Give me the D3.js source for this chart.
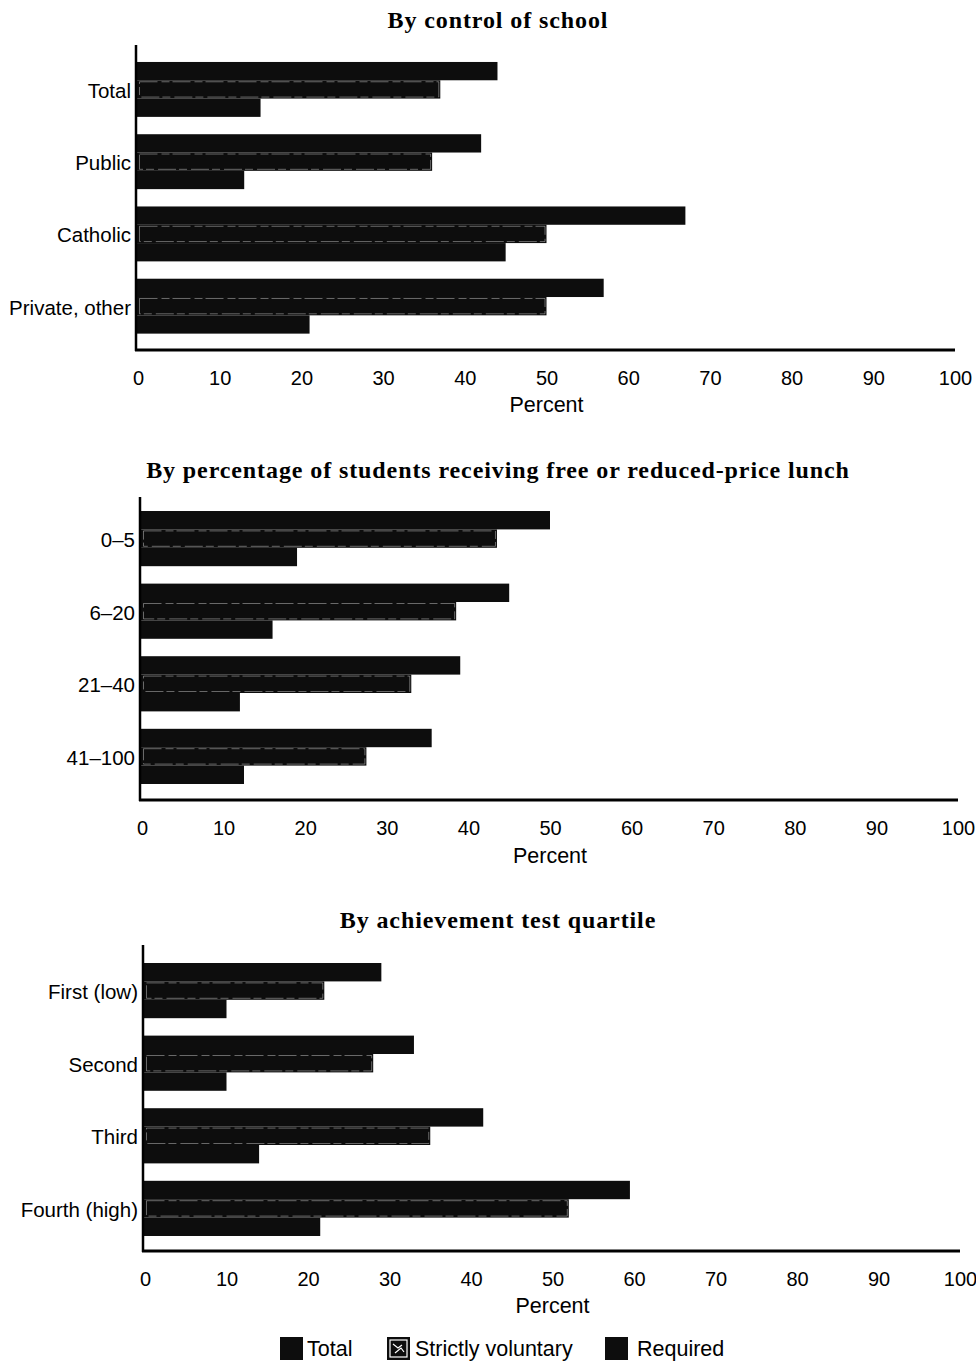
<!DOCTYPE html>
<html>
<head>
<meta charset="utf-8">
<script src="https://cdn.jsdelivr.net/npm/d3@7"></script>
<style>
  html, body { margin: 0; padding: 0; background: #fff; }
  svg { display: block; }
</style>
</head>
<body>
<svg id="chart" width="976" height="1363"></svg>
<script>
// ---- Data ----
const seriesNames = ["Total", "Strictly voluntary", "Required"];
const tickValues = [0, 10, 20, 30, 40, 50, 60, 70, 80, 90, 100];

const controlTitle = "By control of school";
const controlCategories = ["Total", "Public", "Catholic", "Private, other"];
const controlTotal = [44, 42, 67, 57];
const controlVoluntary = [37, 36, 50, 50];
const controlRequired = [15, 13, 45, 21];

const lunchTitle = "By percentage of students receiving free or reduced-price lunch";
const lunchCategories = ["0–5", "6–20", "21–40", "41–100"];
const lunchTotal = [50, 45, 39, 35.5];
const lunchVoluntary = [43.5, 38.5, 33, 27.5];
const lunchRequired = [19, 16, 12, 12.5];

const quartileTitle = "By achievement test quartile";
const quartileCategories = ["First (low)", "Second", "Third", "Fourth (high)"];
const quartileTotal = [29, 33, 41.5, 59.5];
const quartileVoluntary = [22, 28, 35, 52];
const quartileRequired = [10, 10, 14, 21.5];

// ---- Layout (positions only) ----
const panels = [
  { title: controlTitle, cats: controlCategories, vals: [controlTotal, controlVoluntary, controlRequired],
    x0: 138, x1: 955, axisY: 350, yAxisX: 136, yTop: 45, bandStart: 53.3, step: 72.25,
    titleY: 20, tickY: 378, labelY: 405 },
  { title: lunchTitle, cats: lunchCategories, vals: [lunchTotal, lunchVoluntary, lunchRequired],
    x0: 142, x1: 958, axisY: 800, yAxisX: 140, yTop: 497, bandStart: 502.3, step: 72.6,
    titleY: 470, tickY: 828, labelY: 856 },
  { title: quartileTitle, cats: quartileCategories, vals: [quartileTotal, quartileVoluntary, quartileRequired],
    x0: 145, x1: 960, axisY: 1251, yAxisX: 143, yTop: 945, bandStart: 954.3, step: 72.6,
    titleY: 920, tickY: 1279, labelY: 1306 }
];

const svg = d3.select("#chart");
const sansFont = "'Liberation Sans', Arial, Helvetica, sans-serif";
const serifFont = "'Liberation Serif', 'Times New Roman', serif";
const barColor = "#0d0d0d";

panels.forEach(p => {
  const g = svg.append("g");
  const x = d3.scaleLinear().domain([0, 100]).range([p.x0, p.x1]);
  const y = d3.scaleBand().domain(p.cats)
    .range([p.bandStart, p.bandStart + 4 * p.step])
    .paddingInner(0.24).paddingOuter(0.12);
  const ySub = d3.scaleBand().domain(seriesNames).range([0, y.bandwidth()]).padding(0);

  // Title
  g.append("text")
    .attr("x", 498).attr("y", p.titleY)
    .attr("text-anchor", "middle").attr("dominant-baseline", "central")
    .attr("font-family", serifFont).attr("font-weight", "bold")
    .attr("font-size", 24).attr("letter-spacing", 0.9)
    .text(p.title);

  // Bars
  const rows = p.cats.map((c, i) => ({ cat: c, values: seriesNames.map((s, k) => ({ series: s, value: p.vals[k][i] })) }));
  const grp = g.selectAll("g.cat").data(rows).join("g")
    .attr("transform", d => `translate(0,${y(d.cat)})`);
  grp.selectAll("rect.bar").data(d => d.values).join("rect")
    .attr("class", "bar")
    .attr("x", x(0) - 1)
    .attr("y", d => ySub(d.series))
    .attr("width", d => x(d.value) - x(0) + 1)
    .attr("height", ySub.bandwidth())
    .attr("fill", barColor);
  // thin white outline on strictly voluntary bars
  grp.selectAll("rect.vol").data(d => d.values.filter(v => v.series === "Strictly voluntary")).join("rect")
    .attr("class", "vol")
    .attr("x", x(0) + 1.5)
    .attr("y", d => ySub(d.series) + 1.5)
    .attr("width", d => x(d.value) - x(0) - 3)
    .attr("height", ySub.bandwidth() - 3)
    .attr("fill", "none")
    .attr("stroke", "#fff").attr("stroke-width", 0.7)
    .attr("stroke-dasharray", "18,4,8,3")
    .attr("opacity", 0.55);

  // Category labels
  g.selectAll("text.cat").data(p.cats).join("text")
    .attr("class", "cat")
    .attr("x", p.yAxisX - 5)
    .attr("y", d => y(d) + y.bandwidth() / 2 + 1)
    .attr("text-anchor", "end").attr("dominant-baseline", "central")
    .attr("font-family", sansFont).attr("font-size", 20.5)
    .text(d => d);

  // Y axis line
  g.append("line")
    .attr("x1", p.yAxisX).attr("x2", p.yAxisX)
    .attr("y1", p.yTop).attr("y2", p.axisY + 1)
    .attr("stroke", "#000").attr("stroke-width", 2.5);

  // X axis
  const xAxis = d3.axisBottom(x).tickValues(tickValues).tickSize(0).tickPadding(0).tickFormat(d3.format("d"));
  const ax = g.append("g").attr("transform", `translate(0,${p.axisY})`).call(xAxis);
  ax.select(".domain").remove();
  ax.selectAll("text")
    .attr("y", p.tickY - p.axisY).attr("dy", null)
    .attr("dominant-baseline", "central")
    .attr("font-family", sansFont).attr("font-size", 20).attr("fill", "#000");
  g.append("line")
    .attr("x1", p.yAxisX - 1).attr("x2", p.x1)
    .attr("y1", p.axisY).attr("y2", p.axisY)
    .attr("stroke", "#000").attr("stroke-width", 3);

  g.append("text")
    .attr("x", x(50)).attr("y", p.labelY)
    .attr("text-anchor", "middle").attr("dominant-baseline", "central")
    .attr("font-family", sansFont).attr("font-size", 21.5)
    .text("Percent");
});

// ---- Legend ----
const legendItems = [
  { name: seriesNames[0], sx: 280, tx: 307 },
  { name: seriesNames[1], sx: 387, tx: 415 },
  { name: seriesNames[2], sx: 605, tx: 637 }
];
const lg = svg.append("g");
legendItems.forEach(it => {
  lg.append("rect").attr("x", it.sx).attr("y", 1337).attr("width", 23).attr("height", 23).attr("fill", barColor);
  if (it.name === "Strictly voluntary") {
    lg.append("rect").attr("x", it.sx + 3).attr("y", 1340).attr("width", 17).attr("height", 17)
      .attr("fill", "none").attr("stroke", "#fff").attr("stroke-width", 1.2);
    lg.append("path").attr("d", `M${it.sx+6},${1344} l5,4 l4,-3 M${it.sx+8},${1353} l6,-5 l3,4`)
      .attr("fill", "none").attr("stroke", "#fff").attr("stroke-width", 1.2);
  }
  lg.append("text").attr("x", it.tx).attr("y", 1349)
    .attr("dominant-baseline", "central")
    .attr("font-family", sansFont).attr("font-size", 21.5)
    .text(it.name);
});
</script>
</body>
</html>
